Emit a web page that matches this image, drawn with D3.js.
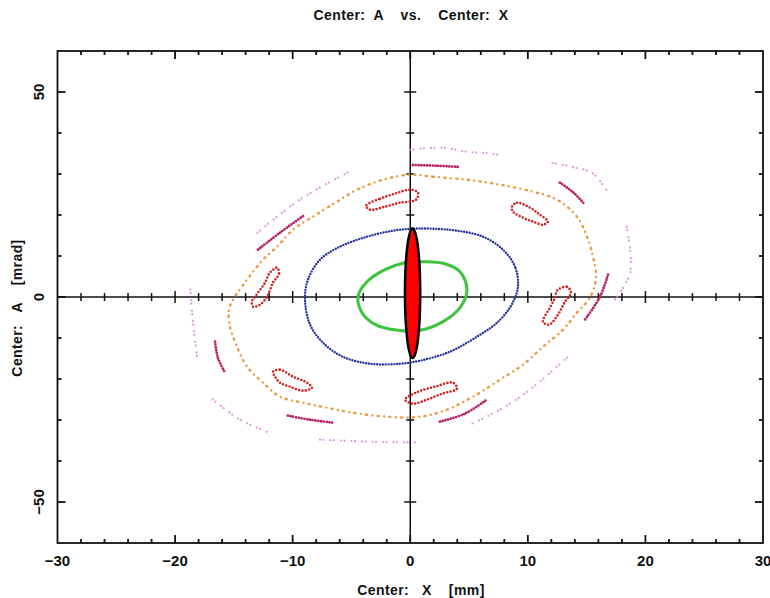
<!DOCTYPE html>
<html>
<head>
<meta charset="utf-8">
<script src="https://cdn.jsdelivr.net/npm/d3@7"></script>
<style>
  html, body { margin: 0; padding: 0; background: #fff; }
  svg { display: block; }
  text { font-family: "Liberation Sans", Arial, sans-serif; font-weight: bold; fill: #111; white-space: pre; }
</style>
</head>
<body>
<svg id="chart" width="770" height="598"></svg>
<script>
// ---- axis configuration ----------------------------------------------------
const xDomain = [-30, 30];          // Center: X [mm]
const yDomain = [-60, 60];          // Center: A [mrad]
const xMajorTicks = [-30, -20, -10, 0, 10, 20, 30];
const yMajorTicks = [-50, 0, 50];
const xMinorStep = 2;
const yMinorStep = 10;

// ---- phase-space traces ([X mm, A mrad]) -----------------------------------
// small core orbit (solid)
const greenOrbit = [
  [4.83, 1.78], [4.23, 6.17], [2.95, 8.12], [1.25, 8.6], [-0.45, 8.37],
  [-2.15, 6.66], [-3.76, 3.49], [-4.44, 0.07], [-4.1, -3.83], [-3.0, -6.66],
  [-1.04, -8.12], [0.83, -8.12], [2.79, -6.0], [4.23, -2.6]
];
// middle orbit
const blueOrbit = [
  [9.16, 2.51], [8.91, 7.39], [7.89, 11.54], [6.19, 14.71], [3.98, 16.17],
  [1.93, 16.66], [0.23, 16.66], [-1.47, 16.17], [-3.68, 14.71], [-5.98, 12.27],
  [-7.68, 9.1], [-8.7, 4.22], [-8.95, -0.66], [-8.52, -6.76], [-7.42, -11.15],
  [-5.72, -14.59], [-3.42, -16.27], [-0.87, -16.27], [0.83, -15.54], [3.38, -13.34],
  [5.67, -9.68], [7.38, -6.27], [8.6, -2.0]
];
// outer orbit
const orangeOrbit = [
  [-0.02, 29.83], [1.93, 29.34], [4.83, 28.61], [7.63, 27.39], [10.44, 25.68],
  [12.48, 23.73], [14.18, 19.59], [15.03, 14.71], [15.54, 9.83], [15.8, 4.71],
  [15.28, -0.17], [14.18, -3.83], [12.99, -7.98], [11.29, -12.12], [9.59, -16.51],
  [7.63, -20.17], [5.34, -24.32], [3.12, -27.49], [0.83, -29.2], [-1.98, -29.2],
  [-4.87, -28.22], [-7.08, -27.0], [-9.12, -25.78], [-11.08, -24.32], [-12.52, -20.9],
  [-13.88, -17.0], [-14.73, -12.12], [-15.33, -7.24], [-15.42, -3.1], [-15.07, -0.66],
  [-13.88, 4.22], [-12.52, 9.1], [-11.33, 12.27], [-9.97, 16.41], [-8.28, 19.59],
  [-6.23, 23.24], [-4.53, 26.17], [-2.32, 28.61]
];
// six resonance islands
const islandTop = [[-3.76, 22.27], [-2.57, 23.98], [-1.3, 25.2], [-0.02, 26.17], [0.66, 25.44],
  [0.49, 23.73], [-0.87, 23.0], [-2.15, 22.02], [-3.42, 21.29]];
const islandUpperRight = [[8.65, 22.02], [9.08, 23.0], [10.18, 21.78], [11.03, 20.07], [11.71, 18.37],
  [11.29, 17.63], [10.44, 18.37], [9.59, 19.34], [8.74, 20.8]];
const islandRight = [[12.48, 1.54], [13.33, 2.51], [13.67, 1.05], [13.16, -1.15], [12.56, -4.32],
  [11.8, -6.76], [11.29, -6.02], [11.88, -2.61], [12.31, -0.17]];
const islandLowerRight = [[-0.45, -25.05], [0.66, -23.1], [2.1, -21.88], [3.64, -20.9], [3.97, -22.37],
  [2.7, -23.59], [1.42, -25.05], [0.23, -26.02]];
const islandLowerLeft = [[-11.67, -18.22], [-11.08, -17.73], [-9.97, -19.44], [-8.78, -20.9], [-8.36, -22.12],
  [-9.12, -22.85], [-10.23, -21.88], [-11.08, -20.9], [-11.5, -19.44]];
const islandLeft = [[-11.33, 7.15], [-11.16, 5.68], [-11.67, 3.49], [-12.18, 0.07], [-12.78, -1.88],
  [-13.37, -2.37], [-13.46, -1.15], [-12.95, 1.05], [-12.35, 3.49], [-11.93, 5.93]];
// dense arc segments of the outer chain
const arcTop = [[0.23, 32.2], [2.3, 32.0], [4.23, 31.7]];
const arcUpperRight = [[12.73, 27.88], [13.9, 25.4], [14.86, 22.51]];
const arcRight = [[16.82, 5.44], [16.14, 0.07], [14.86, -5.54]];
const arcLowerRight = [[2.53, -30.41], [4.65, -28.46], [6.5, -25.05]];
const arcLowerLeft = [[-10.41, -28.95], [-8.55, -29.93], [-6.57, -30.66]];
const arcLeft = [[-16.6, -10.9], [-16.36, -14.8], [-15.75, -18.46]];
const arcUpperLeft = [[-12.95, 11.54], [-11.08, 15.68], [-8.95, 20.07]];
// sparse outermost points
const haloTop = [[-0.02, 35.9], [2.8, 36.4], [4.8, 35.4], [6.5, 35.1], [7.6, 34.6]];
const haloUpperRight = [[12.1, 32.7], [13.8, 31.7], [15.5, 30.2], [16.7, 26.0]];
const haloRight = [[18.4, 17.1], [18.7, 5.9], [17.2, -1.4]];
const haloLowerRight = [[13.33, -14.8], [10.18, -22.6], [7.63, -27.5], [5.08, -31.1]];
const haloBottom = [[-7.67, -34.8], [-3.42, -35.3], [0.57, -35.5]];
const haloLowerLeft = [[-16.8, -25.0], [-14.5, -29.9], [-12.2, -32.85]];
const haloLeft = [[-18.7, 1.8], [-18.5, -5.5], [-18.1, -15.3]];
const haloUpperLeft = [[-13.0, 15.7], [-9.4, 23.7], [-4.9, 31.0]];
// beam acceptance ellipse: centre and half-widths
const beamCenter = [0.2, 0.9];
const beamHalfWidth = [0.65, 15.8];

// ---- layout ----------------------------------------------------------------
const svg = d3.select("#chart");
const x = d3.scaleLinear().domain(xDomain).range([57.5, 763]);
const y = d3.scaleLinear().domain(yDomain).range([543, 51]);
const [x0, x1] = x.range();
const [y0, y1] = y.range();

const xMinor = d3.range(xDomain[0], xDomain[1] + 0.001, xMinorStep);
const yMinor = d3.range(yDomain[0] + 10, yDomain[1] - 0.001, yMinorStep);
const isMajor = (v, step) => Math.abs(v % step) < 1e-9;

// crosshair through the origin with its own small ticks
const cross = svg.append("g").attr("stroke", "#111").attr("stroke-width", 1.5);
cross.append("line").attr("x1", x0).attr("x2", x1).attr("y1", y(0)).attr("y2", y(0));
cross.append("line").attr("x1", x(0)).attr("x2", x(0)).attr("y1", y1).attr("y2", y0);
cross.selectAll(".cx").data(xMinor.filter(v => v > xDomain[0] && v < xDomain[1] && v !== 0))
  .join("line")
  .attr("x1", d => x(d)).attr("x2", d => x(d))
  .attr("y1", d => y(0) - (isMajor(d, 10) ? 6 : 4))
  .attr("y2", d => y(0) + (isMajor(d, 10) ? 6 : 4));
cross.selectAll(".cy").data(yMinor.filter(v => v !== 0))
  .join("line")
  .attr("y1", d => y(d)).attr("y2", d => y(d))
  .attr("x1", d => x(0) - (isMajor(d, 50) ? 6 : 4))
  .attr("x2", d => x(0) + (isMajor(d, 50) ? 6 : 4));

// ---- traces ----------------------------------------------------------------
const closed = d3.line().x(d => x(d[0])).y(d => y(d[1])).curve(d3.curveCatmullRomClosed.alpha(0.5));
const open = d3.line().x(d => x(d[0])).y(d => y(d[1])).curve(d3.curveCatmullRom.alpha(0.5));
const traces = svg.append("g").attr("fill", "none").attr("stroke-linecap", "round");

function trace(data, gen, color, width, dash, opacity) {
  traces.append("path")
    .attr("d", gen(data))
    .attr("stroke", color)
    .attr("stroke-width", width)
    .attr("stroke-dasharray", dash)
    .attr("stroke-opacity", opacity || 1);
}

[haloTop, haloUpperRight, haloRight, haloLowerRight, haloBottom, haloLowerLeft, haloLeft, haloUpperLeft]
  .forEach(h => trace(h, open, "#d38ad9", 2.3, "0 3.5 0 7", 0.85));
trace(orangeOrbit, closed, "#e89a40", 2.4, "1.2 5 0 5.5");
[arcTop, arcUpperRight, arcRight, arcLowerRight, arcLowerLeft, arcLeft, arcUpperLeft]
  .forEach(a => trace(a, open, "#bb2266", 2.8, "0 2.8"));
[islandTop, islandUpperRight, islandRight, islandLowerRight, islandLowerLeft, islandLeft]
  .forEach(i => trace(i, closed, "#cf2424", 2.6, "0 3.4"));
trace(blueOrbit, closed, "#26309c", 2.4, "0 2.8");
trace(greenOrbit, closed, "#3cc43c", 3, null);

// beam ellipse on top
svg.append("ellipse")
  .attr("cx", x(beamCenter[0]))
  .attr("cy", y(beamCenter[1]))
  .attr("rx", x(beamHalfWidth[0]) - x(0))
  .attr("ry", y(0) - y(beamHalfWidth[1]))
  .attr("fill", "#ff0000")
  .attr("stroke", "#000")
  .attr("stroke-width", 2.5);

// ---- frame and edge ticks --------------------------------------------------
const frame = svg.append("g").attr("stroke", "#111").attr("stroke-width", 1.8);
frame.append("rect").attr("x", x0).attr("y", y1).attr("width", x1 - x0).attr("height", y0 - y1).attr("fill", "none");
const xt = xMinor.filter(v => v > xDomain[0] && v < xDomain[1]);
frame.selectAll(".bt").data(xt).join("line")
  .attr("x1", d => x(d)).attr("x2", d => x(d))
  .attr("y1", y0).attr("y2", d => y0 - (isMajor(d, 10) ? 8 : 4));
frame.selectAll(".tt").data(xt).join("line")
  .attr("x1", d => x(d)).attr("x2", d => x(d))
  .attr("y1", y1).attr("y2", d => y1 + (isMajor(d, 10) ? 8 : 4));
frame.selectAll(".lt").data(yMinor).join("line")
  .attr("y1", d => y(d)).attr("y2", d => y(d))
  .attr("x1", x0).attr("x2", d => x0 + (isMajor(d, 50) ? 8 : 4));
frame.selectAll(".rt").data(yMinor).join("line")
  .attr("y1", d => y(d)).attr("y2", d => y(d))
  .attr("x1", x1).attr("x2", d => x1 - (isMajor(d, 50) ? 8 : 4));

// ---- labels ----------------------------------------------------------------
const fmt = d3.format("d");
svg.selectAll(".xl").data(xMajorTicks).join("text")
  .attr("x", d => x(d)).attr("y", 566)
  .attr("text-anchor", "middle").attr("font-size", 15)
  .text(d => fmt(d));
svg.selectAll(".yl").data(yMajorTicks).join("text")
  .attr("transform", d => `translate(44,${y(d)}) rotate(-90)`)
  .attr("text-anchor", "middle").attr("font-size", 15)
  .text(d => fmt(d));

svg.append("text").attr("x", 411).attr("y", 20).attr("text-anchor", "middle").attr("font-size", 14)
  .attr("letter-spacing", 0.4)
  .text("Center:  A    vs.    Center:  X");
svg.append("text").attr("x", 421).attr("y", 595).attr("text-anchor", "middle").attr("font-size", 14)
  .attr("letter-spacing", 0.4)
  .text("Center:   X    [mm]");
svg.append("text").attr("transform", "translate(22,308) rotate(-90)").attr("text-anchor", "middle").attr("font-size", 14)
  .attr("letter-spacing", 0.4)
  .text("Center:   A    [mrad]");
</script>
</body>
</html>
